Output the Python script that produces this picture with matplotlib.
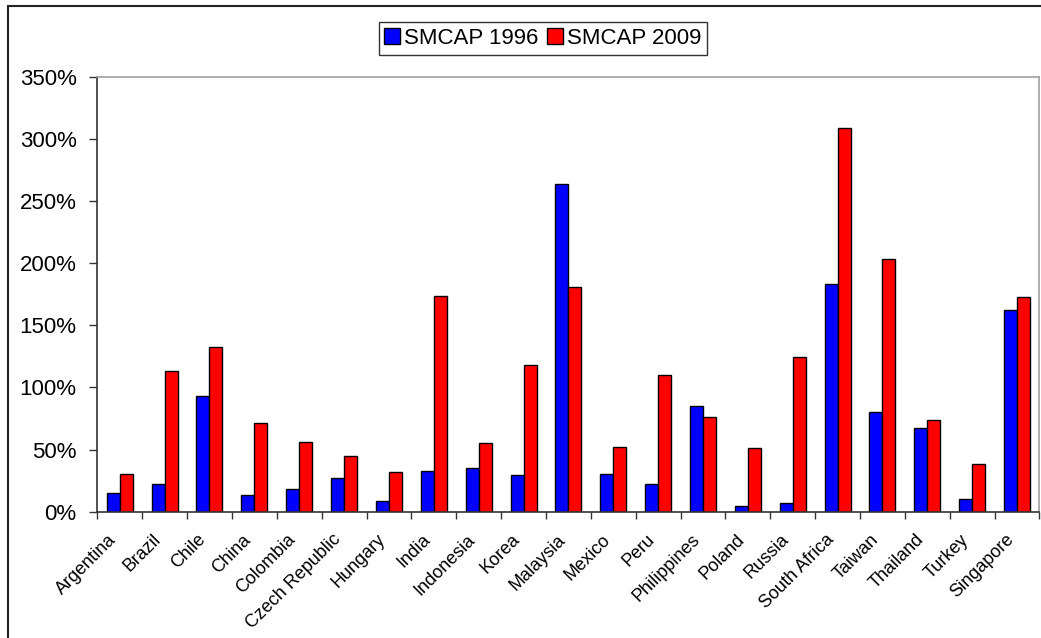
import matplotlib
matplotlib.use('Agg')
import matplotlib.pyplot as plt
import matplotlib.patches as patches
import matplotlib.transforms as mtransforms
from matplotlib.ticker import FuncFormatter, FixedLocator
import numpy as np

countries = ['Argentina', 'Brazil', 'Chile', 'China', 'Colombia', 'Czech Republic',
             'Hungary', 'India', 'Indonesia', 'Korea', 'Malaysia', 'Mexico', 'Peru',
             'Philippines', 'Poland', 'Russia', 'South Africa', 'Taiwan', 'Thailand',
             'Turkey', 'Singapore']
smcap_1996 = [15.3, 22.3, 93.1, 13.2, 18.3, 27.4, 8.6, 32.5, 34.9, 29.3, 263.7,
              30.1, 22.0, 84.8, 4.3, 7.0, 183.0, 80.0, 67.1, 10.2, 162.0]
smcap_2009 = [30.6, 113.5, 132.5, 71.1, 56.1, 44.5, 31.9, 173.6, 55.5, 118.3, 180.5,
              51.8, 109.7, 76.4, 51.2, 124.7, 308.7, 203.1, 73.5, 38.1, 172.7]

plt.rcParams['font.family'] = ['Liberation Sans', 'DejaVu Sans']

fig = plt.figure(figsize=(10.41, 6.38), dpi=100)
ax = fig.add_axes([0.0935, 0.198, 0.905, 0.682])

x = np.arange(len(countries))
w = 0.29
ax.bar(x - w / 2, smcap_1996, w, color='#0000FF', edgecolor='black', linewidth=1, label='SMCAP 1996')
ax.bar(x + w / 2, smcap_2009, w, color='#FF0000', edgecolor='black', linewidth=1, label='SMCAP 2009')

ax.set_xlim(-0.5, len(countries) - 0.5)
ax.set_ylim(0, 350)
ax.set_yticks(np.arange(0, 351, 50))
ax.yaxis.set_major_formatter(FuncFormatter(lambda v, p: '%d%%' % v))
ax.tick_params(axis='y', labelsize=16, length=6, width=1, color='#333333', pad=9)

# ticks between categories, labels at centres
ax.xaxis.set_major_locator(FixedLocator(np.arange(-0.5, len(countries), 1.0)))
ax.xaxis.set_major_formatter(FuncFormatter(lambda v, p: ''))
ax.xaxis.set_minor_locator(FixedLocator(x))
ax.set_xticklabels(countries, minor=True, rotation=45, ha='right', rotation_mode='anchor', fontsize=13)
ax.tick_params(axis='x', which='major', length=5, width=1, color='#333333')
ax.tick_params(axis='x', which='minor', length=0, pad=14)
shift = mtransforms.ScaledTranslation(-0.12, 0, fig.dpi_scale_trans)
for lab in ax.get_xticklabels(minor=True):
    lab.set_transform(lab.get_transform() + shift)

for s in ['left', 'bottom']:
    ax.spines[s].set_color('#333333')
    ax.spines[s].set_linewidth(1.2)
for s in ['top', 'right']:
    ax.spines[s].set_color('#a0a0a0')
    ax.spines[s].set_linewidth(1.2)

leg = ax.legend(loc='center', bbox_to_anchor=(543 / 1041, 1 - 38.5 / 638), bbox_transform=fig.transFigure,
                ncol=2, fontsize=16, frameon=True, fancybox=False, edgecolor='black', borderpad=0.25,
                handlelength=0.7, handleheight=0.7, handletextpad=0.2, columnspacing=0.4, borderaxespad=0)
leg.get_frame().set_linewidth(1)

# outer chart border
fig.patches.append(patches.Rectangle((8 / 1041, -0.1), 1.2, 1.1 - 6 / 638, transform=fig.transFigure,
                                     fill=False, edgecolor='#222222', linewidth=1.5))

fig.savefig('out.png', dpi=100)
